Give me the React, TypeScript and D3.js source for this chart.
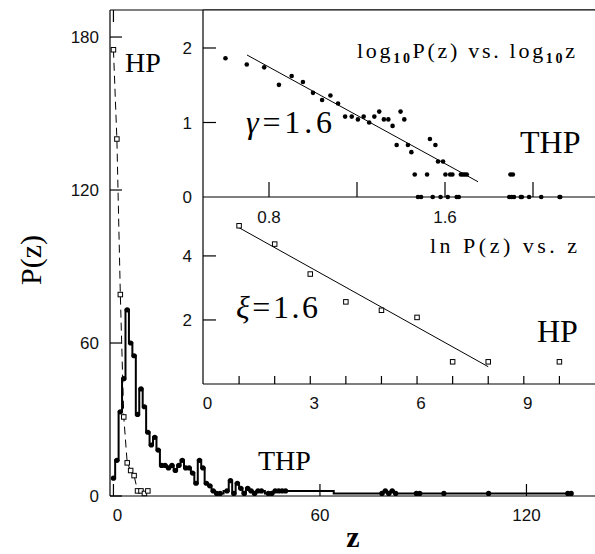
import React from "react";
import * as d3 from "d3";

// THP cluster-size distribution (non-zero bins only)
const thpZ = [0, 1, 2, 3, 4, 5, 6, 7, 8, 9, 10, 11, 12, 13, 14, 15, 16, 17, 18, 19, 20, 21, 22, 23, 24, 25, 26, 27, 28, 29, 30, 31, 33, 34, 35, 36, 37, 38, 39, 40, 41, 42, 43, 45, 46, 47, 48, 49, 50, 78, 79, 80, 81, 82, 88, 89, 96, 109, 132, 133];
const thpP = [7, 14, 33, 46, 73, 60, 55, 32, 42, 35, 25, 20, 23, 18, 12, 12, 11, 12, 10, 12, 14, 11, 11, 9, 5, 14, 11, 5, 4, 2, 1, 1, 2, 6, 1, 5, 3, 1, 3, 2, 1, 2, 2, 1, 1, 2, 2, 2, 2, 1, 2, 1, 2, 1, 1, 1, 1, 1, 1, 1];

// HP distribution
const hpZ = [0, 1, 2, 3, 4, 5, 6, 7, 8, 9, 10];
const hpP = [175, 140, 79, 31, 13, 10, 8, 2, 2, 1, 2];

// fitted lines
const thpFit = { a: 3.04, slope: -1.62, from: 0.7, to: 1.75 };
const hpFit = { a: 5.5, slope: -0.62, from: 1, to: 8 };

const mainYTicks = [0, 60, 120, 180];
const mainXTicks = [0, 60, 120];
const topYTicks = [1, 2];
const topYLabels = [0, 1, 2];
const topXTicks = [0.8, 1.2, 1.6, 2.0];
const topXLabels = [0.8, 1.6];
const botYTicks = [2, 4];
const botXTicks = [1, 2, 3, 4, 5, 6, 7, 8, 9, 10];
const botXLabels = [0, 3, 6, 9];

const W = 595;
const H = 554;
const serif = "'Liberation Serif', 'DejaVu Serif', serif";
const sans = "'Liberation Sans', 'DejaVu Sans', sans-serif";

export default function App() {
  // main panel
  const x = d3.scaleLinear().domain([-1, 140]).range([110, 595.3]);
  const y = d3.scaleLinear().domain([0, 190.6]).range([496, 10]);

  // inset, top: log10 P vs log10 z
  const inL = 203;
  const xT = d3.scaleLinear().domain([0.5, 2.3]).range([inL, inL + 1.8 * 220]);
  const yT = d3.scaleLinear().domain([0, 2.51]).range([197, 10]);

  // inset, bottom: ln P vs z
  const xB = d3.scaleLinear().domain([0, 11]).range([203.5, 595]);
  const yB = d3.scaleLinear().domain([0, 5.84]).range([384, 197]);

  const thp = thpZ.map((z, i) => ({ z, p: thpP[i] }));
  const hp = hpZ.map((z, i) => ({ z, p: hpP[i] }));

  const stepLine = d3
    .line<{ z: number; p: number }>()
    .x((d) => x(d.z))
    .y((d) => y(d.p))
    .curve(d3.curveStep);
  const hpLine = d3
    .line<{ z: number; p: number }>()
    .x((d) => x(d.z))
    .y((d) => y(d.p));

  const logPts = thp.filter((d) => d.z > 0).map((d) => ({ lz: Math.log10(d.z), lp: Math.log10(d.p) }));
  // single counts sit on the axis and are left out of the ln plot
  const lnPts = hp.filter((d) => d.z > 0 && d.p > 1).map((d) => ({ z: d.z, lp: Math.log(d.p) }));

  const sq = 4.5;

  return (
    <svg width={W} height={H} style={{ position: "absolute", left: 0, top: 0, background: "#fff" }}>
      <defs>
        <clipPath id="topclip">
          <rect x={inL} y={0} width={W - inL} height={200} />
        </clipPath>
      </defs>

      {/* main frame */}
      <g stroke="#000" strokeWidth={1.2} fill="none">
        <line x1={110} y1={10} x2={W} y2={10} />
        <line x1={110} y1={10} x2={110} y2={496} />
        <line x1={110} y1={496} x2={W} y2={496} />
        {mainYTicks.map((t) => (
          <line key={t} x1={110} x2={122} y1={y(t)} y2={y(t)} />
        ))}
        {mainXTicks.map((t) => (
          <line key={t} x1={x(t)} x2={x(t)} y1={496} y2={484} />
        ))}
        <line x1={x(0)} x2={x(0)} y1={10} y2={22} />
      </g>

      {/* HP dashed */}
      <path d={hpLine(hp) || ""} fill="none" stroke="#000" strokeWidth={1} strokeDasharray="8,5" />
      {hp.map((d, i) => (
        <rect key={i} x={x(d.z) - sq / 2} y={y(d.p) - sq / 2} width={sq} height={sq} fill="#fff" stroke="#000" strokeWidth={1} />
      ))}

      {/* THP step */}
      <path d={stepLine(thp) || ""} fill="none" stroke="#000" strokeWidth={2} />
      {thp.map((d, i) => (
        <circle key={i} cx={x(d.z)} cy={y(d.p)} r={2.6} fill="#000" />
      ))}

      {/* main tick labels */}
      <g fontFamily={sans} fontSize={17} fill="#111">
        {mainYTicks.map((t) => (
          <text key={t} x={99} y={y(t)} dy="0.36em" textAnchor="end">
            {t}
          </text>
        ))}
        {mainXTicks.map((t) => (
          <text key={t} x={x(t) + (t === 0 ? 4 : 0)} y={521} textAnchor="middle">
            {t}
          </text>
        ))}
      </g>

      <text x={353} y={547} fontFamily={serif} fontSize={30} fontWeight="bold" textAnchor="middle">
        z
      </text>
      <text transform="translate(41,260) rotate(-90)" fontFamily={serif} fontSize={30} textAnchor="middle">
        P(z)
      </text>
      <text x={125} y={72} fontFamily={serif} fontSize={28}>
        HP
      </text>
      <text x={258} y={470} fontFamily={serif} fontSize={28}>
        THP
      </text>

      {/* inset */}
      <rect x={inL} y={10} width={W - inL} height={374} fill="#fff" />

      <g stroke="#000" strokeWidth={1.2} fill="none">
        <line x1={inL} y1={10} x2={W} y2={10} />
        <line x1={inL} y1={10} x2={inL} y2={384} />
        <line x1={inL} y1={197} x2={W} y2={197} />
        <line x1={inL} y1={384} x2={W} y2={384} />
        {topYTicks.map((t) => (
          <line key={t} x1={inL} x2={inL + 13} y1={yT(t)} y2={yT(t)} />
        ))}
        {topXTicks.map((t) => (
          <line key={t} x1={xT(t)} x2={xT(t)} y1={197} y2={182} />
        ))}
        {botYTicks.map((t) => (
          <line key={t} x1={inL} x2={inL + 13} y1={yB(t)} y2={yB(t)} />
        ))}
        {botXTicks.map((t) => (
          <line key={t} x1={xB(t)} x2={xB(t)} y1={384} y2={376} />
        ))}
      </g>

      <g clipPath="url(#topclip)">
        <path
          d={`M${xT(thpFit.from)},${yT(thpFit.a + thpFit.slope * thpFit.from)}L${xT(thpFit.to)},${yT(thpFit.a + thpFit.slope * thpFit.to)}`}
          stroke="#000"
          strokeWidth={1}
        />
        {logPts.map((d, i) => (
          <circle key={i} cx={xT(d.lz)} cy={yT(d.lp)} r={2.3} fill="#000" />
        ))}
      </g>

      <path
        d={`M${xB(hpFit.from)},${yB(hpFit.a + hpFit.slope * hpFit.from)}L${xB(hpFit.to)},${yB(hpFit.a + hpFit.slope * hpFit.to)}`}
        stroke="#000"
        strokeWidth={1}
      />
      {lnPts.map((d, i) => (
        <rect key={i} x={xB(d.z) - sq / 2} y={yB(d.lp) - sq / 2} width={sq} height={sq} fill="#fff" stroke="#000" strokeWidth={1} />
      ))}

      {/* inset tick labels */}
      <g fontFamily={sans} fontSize={17} fill="#111">
        {topYLabels.map((t) => (
          <text key={t} x={192} y={yT(t)} dy="0.36em" textAnchor="end">
            {t}
          </text>
        ))}
        {botYTicks.map((t) => (
          <text key={t} x={192} y={yB(t)} dy="0.36em" textAnchor="end">
            {t}
          </text>
        ))}
        {topXLabels.map((t) => (
          <text key={t} x={xT(t)} y={223} textAnchor="middle">
            {t.toFixed(1)}
          </text>
        ))}
        {botXLabels.map((t) => (
          <text key={t} x={xB(t) + 4} y={409} textAnchor="middle">
            {t}
          </text>
        ))}
      </g>

      {/* inset annotations */}
      <text x={357} y={58} fontFamily={serif} fontSize={22} textLength={218} lengthAdjust="spacing">
        log<tspan fontSize={14} fontWeight="bold" dy={5}>10</tspan>
        <tspan dy={-5}>P(z) vs. log</tspan>
        <tspan fontSize={14} fontWeight="bold" dy={5}>10</tspan>
        <tspan dy={-5}>z</tspan>
      </text>
      <text x={430} y={253} fontFamily={serif} fontSize={22} textLength={147} lengthAdjust="spacing">
        ln P(z) vs. z
      </text>
      <text x={246} y={133} fontFamily={serif} fontSize={32} textLength={86} lengthAdjust="spacing">
        <tspan fontStyle="italic">γ</tspan>=1.6
      </text>
      <text x={236} y={318} fontFamily={serif} fontSize={32} textLength={82} lengthAdjust="spacing">
        <tspan fontStyle="italic">ξ</tspan>=1.6
      </text>
      <text x={520} y={153} fontFamily={serif} fontSize={32}>
        THP
      </text>
      <text x={537} y={342} fontFamily={serif} fontSize={32}>
        HP
      </text>
    </svg>
  );
}
